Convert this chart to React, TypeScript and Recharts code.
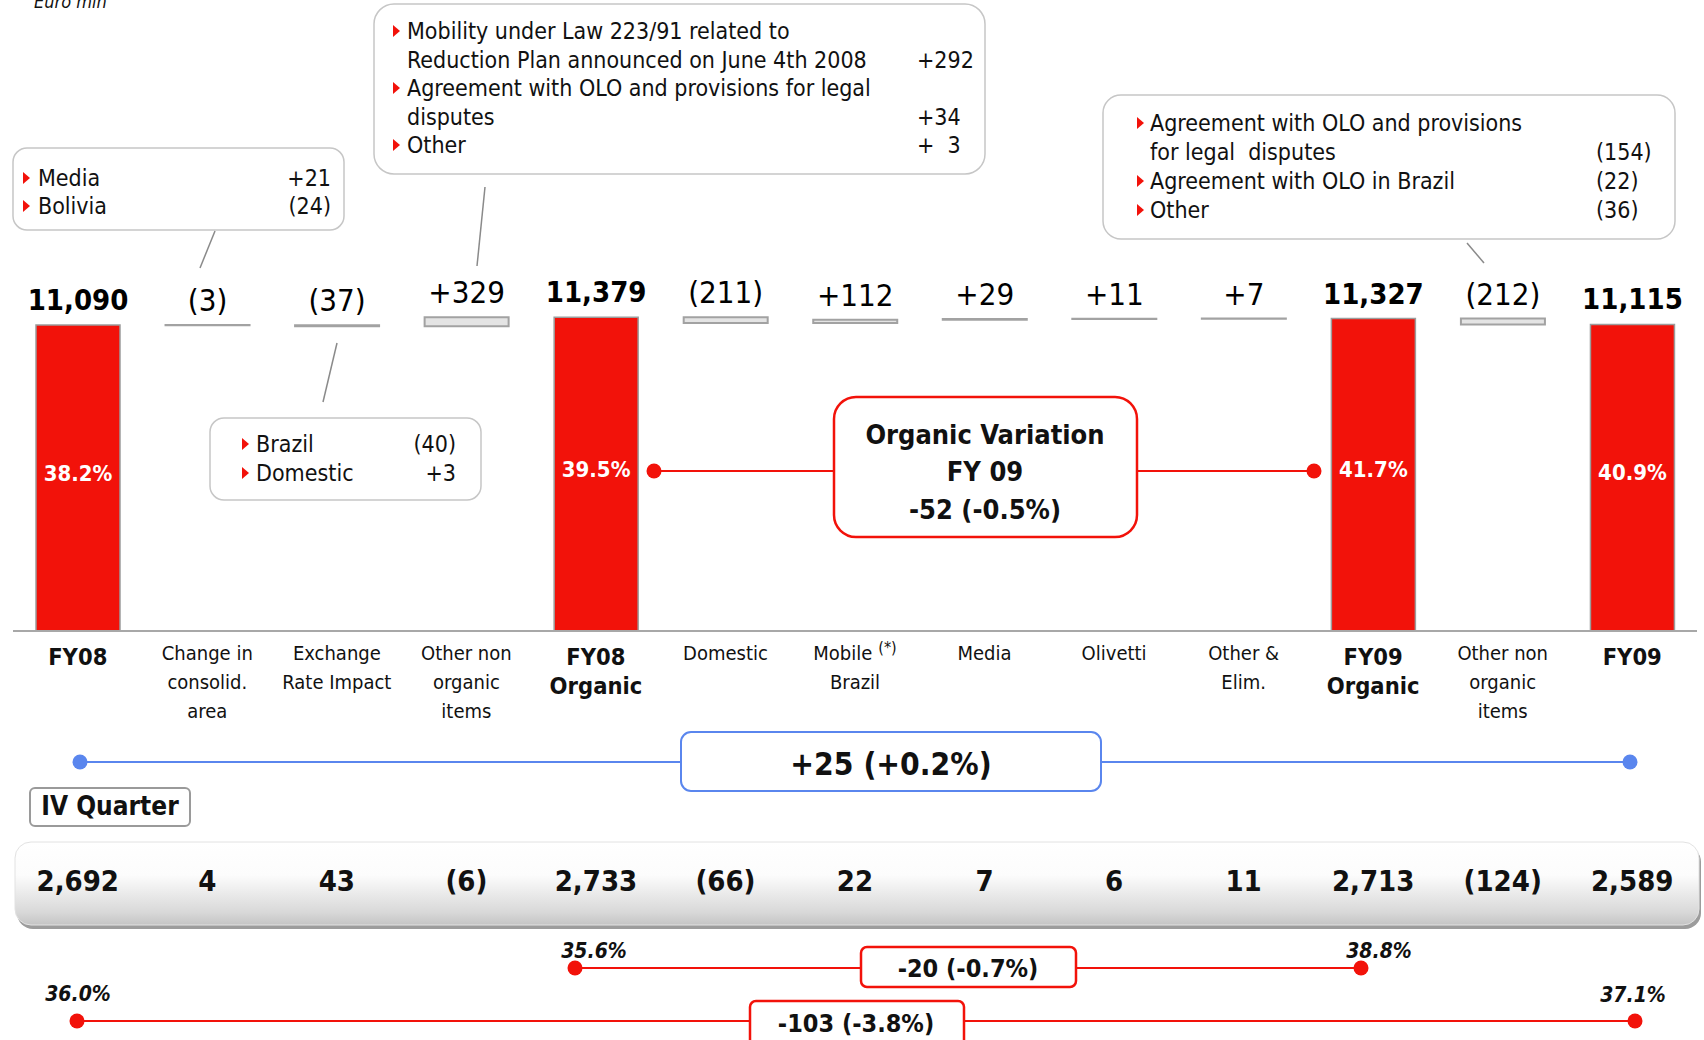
import { ComposedChart, Bar, XAxis, YAxis, Cell, LabelList } from "recharts";

const FONT = "'DejaVu Sans Condensed', 'DejaVu Sans', sans-serif";
const RED = "#f2120a";
const BLUE = "#5a86ee";

// waterfall steps, FY08 -> FY09 (Euro mln)
const categories = [
  "fy08", "consolid", "fx", "nonOrg08", "fy08org", "domestic", "mobileBr",
  "media", "olivetti", "otherElim", "fy09org", "nonOrg09", "fy09",
];
const tickLines = [
  ["FY08"], ["Change in", "consolid.", "area"], ["Exchange", "Rate Impact"],
  ["Other non", "organic", "items"], ["FY08", "Organic"], ["Domestic"],
  ["Mobile", "Brazil"], ["Media"], ["Olivetti"], ["Other &", "Elim."],
  ["FY09", "Organic"], ["Other non", "organic", "items"], ["FY09"],
];
const isTotal = [true, false, false, false, true, false, false, false, false, false, true, false, true];
const fyValues = [11090, -3, -37, 329, 11379, -211, 112, 29, 11, 7, 11327, -212, 11115];
const fyMargin = [38.2, null, null, null, 39.5, null, null, null, null, null, 41.7, null, 40.9];
const q4Values = [2692, 4, 43, -6, 2733, -66, 22, 7, 6, 11, 2713, -124, 2589];
const q4Margin = { fy08: 36.0, fy08org: 35.6, fy09org: 38.8, fy09: 37.1 };

const calloutMediaBolivia = [["Media", "+21"], ["Bolivia", "(24)"]];
const calloutNonOrg08 = [
  { bullet: true, text: "Mobility under Law 223/91 related to", num: "" },
  { bullet: false, text: "Reduction Plan announced on June 4th 2008", num: "+292" },
  { bullet: true, text: "Agreement with OLO and provisions for legal", num: "" },
  { bullet: false, text: "disputes", num: "+34" },
  { bullet: true, text: "Other", num: "+  3" },
];
const calloutFx = [["Brazil", "(40)"], ["Domestic", "+3"]];
const calloutNonOrg09 = [
  { bullet: true, text: "Agreement with OLO and provisions", num: "" },
  { bullet: false, text: "for legal  disputes", num: "(154)" },
  { bullet: true, text: "Agreement with OLO in Brazil", num: "(22)" },
  { bullet: true, text: "Other", num: "(36)" },
];

const fmtNum = (v: number) => Math.abs(v).toLocaleString("en-US");
const fmtFy = (v: number, total: boolean) =>
  total ? fmtNum(v) : v < 0 ? `(${fmtNum(v)})` : `+${fmtNum(v)}`;
const fmtQ = (v: number) => (v < 0 ? `(${fmtNum(v)})` : fmtNum(v));
const fmtVar = (a: number, b: number) => {
  const d = b - a;
  const pct = (d / a) * 100;
  const s = (n: number, dec: number) => (n > 0 ? "+" : n < 0 ? "-" : "") + Math.abs(n).toFixed(dec);
  return `${s(d, 0)} (${s(pct, 1)}%)`;
};

function buildRows() {
  let running = 0;
  return categories.map((key, i) => {
    const v = fyValues[i];
    if (isTotal[i]) {
      running = v;
      return { key, idx: i, base: 0, step: v };
    }
    const start = running;
    running += v;
    return { key, idx: i, base: Math.min(start, running), step: Math.abs(v) };
  });
}
const rows = buildRows();

function Bullet({ x, y }: { x: number; y: number }) {
  return <path d={`M${x},${y - 6} L${x + 7},${y} L${x},${y + 6} Z`} fill={RED} />;
}

function CategoryTick(props: any) {
  const { x, y, payload } = props;
  const i = categories.indexOf(payload.value);
  if (i < 0) return null;
  const bold = isTotal[i];
  const lines = tickLines[i];
  return (
    <g fontFamily={FONT} fill="#111">
      {lines.map((ln, k) => (
        <text
          key={k}
          x={x}
          y={y + (bold ? 26 : 22) + k * 29}
          textAnchor="middle"
          dominantBaseline="central"
          fontSize={bold ? 23.5 : 20}
          fontWeight={bold ? 700 : 400}
        >
          {ln}
          {payload.value === "mobileBr" && k === 0 ? (
            <tspan dx={6} dy={-6} fontSize={16}>(*)</tspan>
          ) : null}
        </text>
      ))}
      <text
        x={x}
        y={y + 250}
        textAnchor="middle"
        dominantBaseline="central"
        fontSize={29}
        fontWeight={700}
      >
        {fmtQ(q4Values[i])}
      </text>
    </g>
  );
}

const renderTopLabel = (p: any) => {
  const { x, y, width, value } = p;
  const i = value as number;
  const total = isTotal[i];
  return (
    <text
      x={x + width / 2}
      y={y - 25}
      textAnchor="middle"
      dominantBaseline="central"
      fontFamily={FONT}
      fontSize={total ? 29 : 31}
      fontWeight={total ? 700 : 400}
      fill="#000"
    >
      {fmtFy(fyValues[i], total)}
    </text>
  );
};

const renderMarginLabel = (p: any) => {
  const { x, y, width, height, value } = p;
  const m = fyMargin[value as number];
  if (m == null) return null;
  return (
    <text
      x={x + width / 2}
      y={y + height / 2 - 5}
      textAnchor="middle"
      dominantBaseline="central"
      fontFamily={FONT}
      fontSize={22}
      fontWeight={700}
      fill="#fff"
    >
      {m.toFixed(1)}%
    </text>
  );
};

function Decorations() {
  const box = { fill: "#fff", stroke: "#c6c6c6", strokeWidth: 1.5 };
  const txt = { fontFamily: FONT, fontSize: 23, fill: "#111", dominantBaseline: "central" as const, style: { whiteSpace: "pre" as const } };
  const pctTxt = { fontFamily: FONT, fontSize: 21, fontWeight: 700, fontStyle: "italic", fill: "#111", textAnchor: "middle" as const, dominantBaseline: "central" as const };
  const organicVar = fmtVar(fyValues[4], fyValues[10]);
  const totalVar = fmtVar(fyValues[0], fyValues[12]);
  const q4OrgVar = fmtVar(q4Values[4], q4Values[10]);
  const q4TotVar = fmtVar(q4Values[0], q4Values[12]);
  return (
    <svg width={1704} height={1040} style={{ position: "absolute", left: 0, top: 0 }}>
      <defs>
        <linearGradient id="bandFill" x1="0" y1="0" x2="0" y2="1">
          <stop offset="0" stopColor="#ffffff" />
          <stop offset="0.4" stopColor="#fcfcfc" />
          <stop offset="0.85" stopColor="#d8d8d8" />
          <stop offset="1" stopColor="#c4c4c4" />
        </linearGradient>
      </defs>

      <text x={34} y={8} fontFamily={FONT} fontSize={18} fontStyle="italic" fill="#111">Euro mln</text>

      {/* callout: change in consolidation area */}
      <rect x={13} y={148} width={331} height={82} rx={14} {...box} />
      {calloutMediaBolivia.map(([t, n], k) => (
        <g key={k}>
          <Bullet x={23} y={178 + k * 28} />
          <text x={38} y={178 + k * 28} {...txt}>{t}</text>
          <text x={331} y={178 + k * 28} {...txt} textAnchor="end">{n}</text>
        </g>
      ))}
      <line x1={215} y1={231} x2={200} y2={268} stroke="#8a8a8a" strokeWidth={1.5} />

      {/* callout: other non organic items FY08 */}
      <rect x={374} y={4} width={611} height={170} rx={20} {...box} />
      {calloutNonOrg08.map((r, k) => {
        const yy = 31 + k * 28.5;
        return (
          <g key={k}>
            {r.bullet ? <Bullet x={393} y={yy} /> : null}
            <text x={407} y={yy} {...txt}>{r.text}</text>
            {r.num ? <text x={917} y={yy} {...txt}>{r.num}</text> : null}
          </g>
        );
      })}
      <line x1={485} y1={187} x2={477} y2={266} stroke="#8a8a8a" strokeWidth={1.5} />

      {/* callout: exchange rate */}
      <rect x={210} y={418} width={271} height={82} rx={14} {...box} />
      {calloutFx.map(([t, n], k) => (
        <g key={k}>
          <Bullet x={242} y={444 + k * 29} />
          <text x={256} y={444 + k * 29} {...txt}>{t}</text>
          <text x={456} y={444 + k * 29} {...txt} textAnchor="end">{n}</text>
        </g>
      ))}
      <line x1={337} y1={343} x2={323} y2={402} stroke="#8a8a8a" strokeWidth={1.5} />

      {/* callout: other non organic items FY09 */}
      <rect x={1103} y={95} width={572} height={144} rx={18} {...box} />
      {calloutNonOrg09.map((r, k) => {
        const yy = 123 + k * 29;
        return (
          <g key={k}>
            {r.bullet ? <Bullet x={1137} y={yy} /> : null}
            <text x={1150} y={yy} {...txt}>{r.text}</text>
            {r.num ? <text x={1596} y={yy} {...txt}>{r.num}</text> : null}
          </g>
        );
      })}
      <line x1={1467} y1={243} x2={1484} y2={263} stroke="#8a8a8a" strokeWidth={1.5} />

      {/* organic variation */}
      <line x1={654} y1={471} x2={1314} y2={471} stroke={RED} strokeWidth={2} />
      <circle cx={654} cy={471} r={7.5} fill={RED} />
      <circle cx={1314} cy={471} r={7.5} fill={RED} />
      <rect x={834} y={397} width={303} height={140} rx={22} fill="#fff" stroke={RED} strokeWidth={2.5} />
      {["Organic Variation", "FY 09", organicVar].map((t, k) => (
        <text key={k} x={985} y={434 + k * 37.5} fontFamily={FONT} fontSize={27} fontWeight={700} fill="#111" textAnchor="middle" dominantBaseline="central">{t}</text>
      ))}

      {/* total variation */}
      <line x1={80} y1={762} x2={1630} y2={762} stroke={BLUE} strokeWidth={2} />
      <circle cx={80} cy={762} r={7.5} fill={BLUE} />
      <circle cx={1630} cy={762} r={7.5} fill={BLUE} />
      <rect x={681} y={732} width={420} height={59} rx={10} fill="#fff" stroke={BLUE} strokeWidth={2} />
      <text x={891} y={764} fontFamily={FONT} fontSize={31.5} fontWeight={700} fill="#111" textAnchor="middle" dominantBaseline="central">{totalVar}</text>

      {/* IV quarter band */}
      <rect x={30} y={788} width={160} height={38} rx={5} fill="#fff" stroke="#9a9a9a" strokeWidth={2} />
      <text x={110} y={806} fontFamily={FONT} fontSize={26} fontWeight={700} fill="#111" textAnchor="middle" dominantBaseline="central">IV Quarter</text>
      <rect x={17} y={846} width={1684} height={83} rx={16} fill="#9c9c9c" />
      <rect x={15} y={842} width={1684} height={83} rx={16} fill="url(#bandFill)" stroke="#e2e2e2" strokeWidth={1} />

      {/* IV quarter margins */}
      <line x1={575} y1={968} x2={1361} y2={968} stroke={RED} strokeWidth={2} />
      <circle cx={575} cy={968} r={7.5} fill={RED} />
      <circle cx={1361} cy={968} r={7.5} fill={RED} />
      <text x={594} y={951} {...pctTxt}>{q4Margin.fy08org.toFixed(1)}%</text>
      <text x={1379} y={951} {...pctTxt}>{q4Margin.fy09org.toFixed(1)}%</text>
      <rect x={861} y={947} width={215} height={40} rx={6} fill="#fff" stroke={RED} strokeWidth={2.5} />
      <text x={968} y={968} fontFamily={FONT} fontSize={25} fontWeight={700} fill="#111" textAnchor="middle" dominantBaseline="central">{q4OrgVar}</text>

      <line x1={77} y1={1021} x2={1635} y2={1021} stroke={RED} strokeWidth={2} />
      <circle cx={77} cy={1021} r={7.5} fill={RED} />
      <circle cx={1635} cy={1021} r={7.5} fill={RED} />
      <text x={78} y={994} {...pctTxt}>{q4Margin.fy08.toFixed(1)}%</text>
      <text x={1633} y={995} {...pctTxt}>{q4Margin.fy09.toFixed(1)}%</text>
      <rect x={750} y={1001} width={214} height={50} rx={6} fill="#fff" stroke={RED} strokeWidth={2.5} />
      <text x={856} y={1023} fontFamily={FONT} fontSize={25} fontWeight={700} fill="#111" textAnchor="middle" dominantBaseline="central">{q4TotVar}</text>
    </svg>
  );
}

export default function App() {
  return (
    <div style={{ position: "absolute", left: 0, top: 0, width: 1704, height: 1040, overflow: "hidden", background: "#fff" }}>
      <Decorations />
      <div style={{ position: "absolute", left: 0, top: 0 }}>
        <ComposedChart
          width={1704}
          height={1040}
          data={rows}
          margin={{ top: 300, right: 7, bottom: 379, left: 13 }}
          barCategoryGap={0}
        >
          <XAxis
            dataKey="key"
            height={30}
            interval={0}
            tickLine={false}
            tickSize={0}
            tickMargin={0}
            axisLine={{ stroke: "#a8a8a8", strokeWidth: 2 }}
            tick={<CategoryTick />}
          />
          <YAxis hide domain={[0, 12000]} allowDataOverflow />
          <Bar dataKey="base" stackId="w" fill="transparent" isAnimationActive={false} barSize={84} />
          <Bar dataKey="step" stackId="w" isAnimationActive={false} barSize={84}>
            {rows.map((r, i) => (
              <Cell
                key={r.key}
                fill={isTotal[i] ? RED : "#e4e4e4"}
                stroke={isTotal[i] ? "#9c9c9c" : "#a2a2a2"}
                strokeWidth={isTotal[i] ? 1.5 : 2}
              />
            ))}
            <LabelList dataKey="idx" content={renderTopLabel} />
            <LabelList dataKey="idx" content={renderMarginLabel} />
          </Bar>
        </ComposedChart>
      </div>
    </div>
  );
}
